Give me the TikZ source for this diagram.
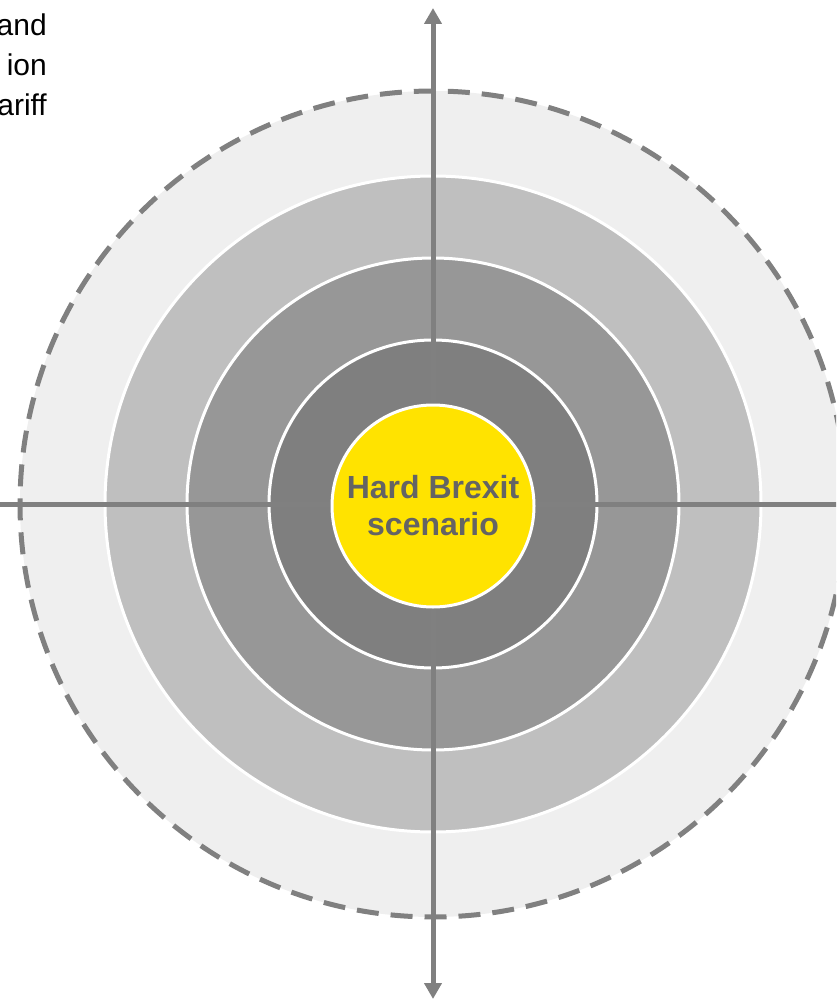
\documentclass[tikz,border=0pt]{standalone}
\usepackage{fontspec}
\setmainfont{Liberation Sans}
\usetikzlibrary{arrows.meta}
\definecolor{ringA}{HTML}{EFEFEF}
\definecolor{ringB}{HTML}{BFBFBF}
\definecolor{ringC}{HTML}{979797}
\definecolor{ringD}{HTML}{7F7F7F}
\definecolor{axisgray}{HTML}{808080}
\definecolor{coreyellow}{HTML}{FFE300}
\definecolor{coretext}{HTML}{646464}
\begin{document}
\begin{tikzpicture}[x=1pt,y=-1pt,
  ringnode/.style={circle,inner sep=0pt,outer sep=0pt,draw=white,line width=3pt},
  axisline/.style={draw=axisgray,line width=5pt},
  tipstyle/.style={{Triangle[width=17pt,length=16pt]}-{Triangle[width=17pt,length=16pt]}},
  notetext/.style={anchor=base east,inner sep=0pt,font=\fontsize{30}{40}\selectfont,text=black}]
\useasboundingbox (0,0) rectangle (836,1000);
\clip (0,0) rectangle (836,1000);
\coordinate (c) at (433,504);
% rings
\node[circle,inner sep=0pt,outer sep=0pt,fill=ringA,minimum size=826pt] (ring1) at (c) {};
\draw[draw=axisgray,line width=5pt,dash pattern=on 22pt off 12pt] (c) circle[radius=413pt];
\node[ringnode,fill=ringB,minimum size=656pt] (ring2) at (c) {};
\node[ringnode,fill=ringC,minimum size=492pt] (ring3) at (c) {};
\node[ringnode,fill=ringD,minimum size=328pt] (ring4) at (c) {};
% axes
\coordinate (top) at (433,8);
\coordinate (bot) at (433,999);
\coordinate (left) at (-10,504);
\coordinate (right) at (846,504);
\draw[axisline,tipstyle] (bot) -- (top);
\draw[axisline] (left) -- (right);
% core
\node[ringnode,fill=coreyellow,minimum size=202pt,text=coretext,align=center,
      font=\bfseries\fontsize{32}{37}\selectfont] (core) at (433,506) {Hard Brexit\\scenario};
% cut-off note text
\node[notetext] (note1) at (47,36) {and};
\node[notetext] (note2) at (47,76) {ion};
\node[notetext] (note3) at (47,116) {ariff};
\end{tikzpicture}
\end{document}
